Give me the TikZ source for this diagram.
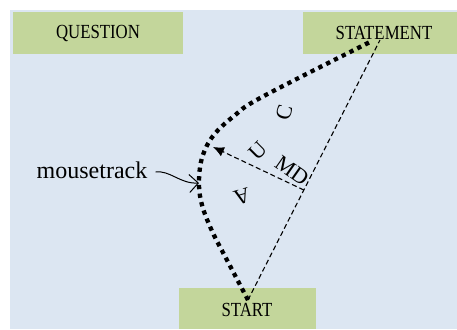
\documentclass[tikz,border=0pt]{standalone}
\usepackage{fontspec}
\setmainfont{Liberation Serif}
\newfontfamily\boxfont[FakeStretch=0.84]{Liberation Serif}
\usetikzlibrary{arrows.meta,calc}
\definecolor{panelblue}{HTML}{DCE6F2}
\definecolor{boxgreen}{HTML}{C3D69B}
\begin{document}
\begin{tikzpicture}[x=1pt,y=-1pt]
  % Parameters
  \def\boxh{42}
  \def\lettersize{\fontsize{22}{26}\selectfont}

  % Styles
  \tikzset{
    answerbox/.style={fill=boxgreen, inner sep=0pt, minimum height=\boxh pt,
      font=\boxfont\fontsize{20}{24}\selectfont},
    mtrack/.style={line width=4.3pt, dash pattern=on 4.3pt off 4.4pt},
    diagonal/.style={line width=1.1pt, dash pattern=on 5pt off 3pt},
    aucletter/.style={font=\lettersize, inner sep=0pt}
  }

  \useasboundingbox (0,0) rectangle (457,329);
  \fill[panelblue] (10,10) rectangle (457,329);

  % Boxes
  \node[answerbox, minimum width=170pt] (question) at (98,33) {QUESTION};
  \node[answerbox, minimum width=154pt] (statement) at (380,33) {\hspace{8pt}STATEMENT};
  \fill[boxgreen] (179,288) rectangle (316,329);
  \node[inner sep=0pt, font=\boxfont\fontsize{20}{24}\selectfont] (start) at (247,310) {START};

  % End points
  \coordinate (startpt) at (248,300);
  \coordinate (stmtpt) at (380,40);
  \coordinate (mdpt) at ($(startpt)!0.423!(stmtpt)$);
  \coordinate (mdtip) at (213,147);

  % Straight path
  \draw[diagonal] (startpt) -- (stmtpt);

  % Mouse track
  \draw[mtrack] plot[smooth, tension=0.6] coordinates {(248,300) (228,262) (212,231) (202,205)
    (199,183) (202,158) (213,136) (234,116) (262,97) (370,42)};

  % Maximum deviation
  \draw[diagonal, -{Latex[length=11pt,width=10pt]}] (mdpt) -- (mdtip);

  % Labels
  \node[aucletter, rotate=196] (lettera) at (242,197) {A};
  \node[aucletter, rotate=45] (letteru) at (258,151) {U};
  \node[aucletter, rotate=75] (letterc) at (284,113) {C};
  \node[aucletter, rotate=-35] (md) at (292,171) {MD};

  \node[font=\fontsize{24}{28}\selectfont, inner sep=0pt] (mouse) at (92,170) {mousetrack};
  \coordinate (tracktip) at (199,183);
  \draw[line width=1pt, -{Straight Barb[length=9pt,width=18pt]}]
    (mouse.east) ++(8,2) .. controls (170,170) and (180,184) .. (tracktip);
\end{tikzpicture}
\end{document}
